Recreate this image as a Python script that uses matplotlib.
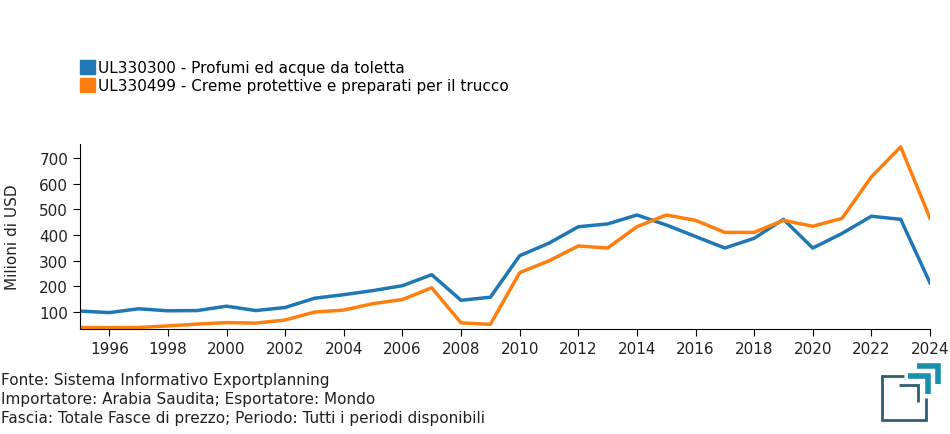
import matplotlib
matplotlib.use("Agg")
import matplotlib.pyplot as plt
from matplotlib.lines import Line2D
from matplotlib.patches import Patch

# Data (Milioni di USD)
years = list(range(1995, 2025))
profumi = [103, 97, 112, 104, 105, 122, 105, 117, 153, 167, 183, 202, 245, 145, 157,
           319, 368, 432, 443, 478, 439, 394, 349, 387, 461, 349, 406, 473, 461, 213]
creme = [39, 38, 39, 45, 52, 58, 56, 68, 99, 107, 132, 148, 194, 57, 51,
         253, 299, 357, 349, 432, 478, 457, 410, 410, 457, 434, 465, 627, 744, 465]
labels = ["UL330300 - Profumi ed acque da toletta",
          "UL330499 - Creme protettive e preparati per il trucco"]
colors = ["#1f77b4", "#ff7f0e"]
footer = ["Fonte: Sistema Informativo Exportplanning",
          "Importatore: Arabia Saudita; Esportatore: Mondo",
          "Fascia: Totale Fasce di prezzo; Periodo: Tutti i periodi disponibili"]

W, H = 950, 435
fs = 11
fig = plt.figure(figsize=(W / 100, H / 100), dpi=100)
ax = fig.add_axes([80 / W, 1 - 330 / H, 850 / W, 185 / H])

ax.plot(years, profumi, color=colors[0], lw=2.5)
ax.plot(years, creme, color=colors[1], lw=2.5)

ax.set_xlim(1995, 2024)
ax.set_ylim(33, 755)
ax.set_xticks(range(1996, 2025, 2))
ax.set_yticks(range(100, 701, 100))
ax.spines['top'].set_visible(False)
ax.spines['right'].set_visible(False)
ax.tick_params(labelsize=fs, labelcolor="#222222", length=5)
ax.set_ylabel("Milioni di USD", fontsize=fs, color="#222222")
ax.yaxis.set_label_coords(-60 / 850, 0.5)

# legend
handles = [Patch(facecolor=c, edgecolor=c) for c in colors]
fig.legend(handles, labels, loc="upper left", bbox_to_anchor=(74 / W, 1 - 55 / H),
           frameon=False, fontsize=fs, handlelength=1.0, handleheight=1.0,
           handletextpad=0.2, labelspacing=0.2, borderaxespad=0)

# footer
for i, t in enumerate(footer):
    fig.text(1 / W, 1 - (380 + 19.5 * i) / H, t, fontsize=fs, color="#222222", va="center")

# logo
def px(xs, ys):
    return [x / W for x in xs], [1 - y / H for y in ys]

dark = "#2f5f73"
teal = "#1a91aa"
for xs, ys, c, w in [
    ([904, 882, 882, 926, 926], [377, 377, 421, 421, 399], dark, 2),
    ([899, 918, 918], [386, 386, 403], dark, 2),
    ([908, 928, 928], [377, 377, 395], teal, 4),
    ([917, 938, 938], [367, 367, 385], teal, 4),
]:
    x, y = px(xs, ys)
    fig.add_artist(Line2D(x, y, color=c, lw=w, solid_capstyle="butt", solid_joinstyle="miter"))

fig.savefig("out.png", dpi=100)
